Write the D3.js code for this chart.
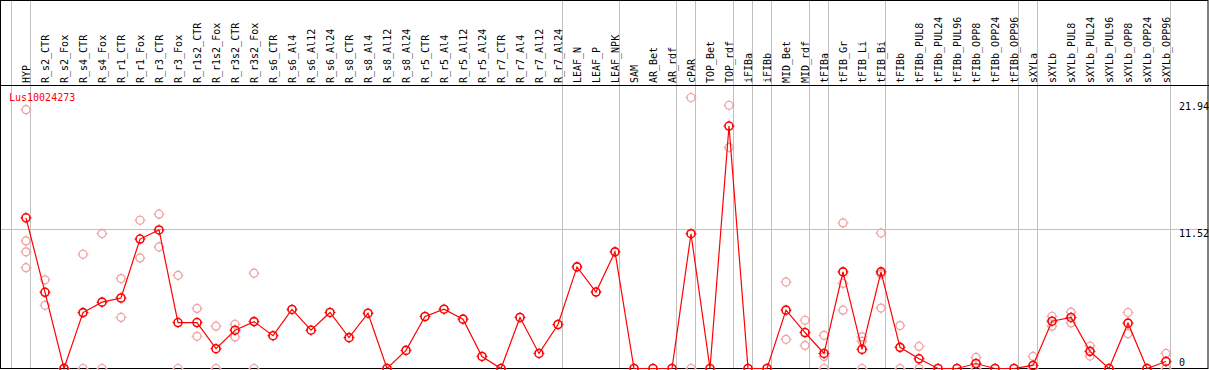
<!DOCTYPE html>
<html>
<head>
<meta charset="utf-8">
<script src="https://cdn.jsdelivr.net/npm/d3@7"></script>
<style>
  html, body { margin: 0; padding: 0; background: #fff; }
  svg { display: block; }
  text { font-family: "DejaVu Sans Mono", monospace; font-size: 10px; }
</style>
</head>
<body>
<div id="chart"></div>
<script>
const geneName = 'Lus10024273'

const samples = ['HYP', 'R_s2_CTR', 'R_s2_Fox', 'R_s4_CTR', 'R_s4_Fox', 'R_r1_CTR', 'R_r1_Fox', 'R_r3_CTR', 'R_r3_Fox',
  'R_r1s2_CTR', 'R_r1s2_Fox', 'R_r3s2_CTR', 'R_r3s2_Fox', 'R_s6_CTR', 'R_s6_Al4', 'R_s6_Al12', 'R_s6_Al24',
  'R_s8_CTR', 'R_s8_Al4', 'R_s8_Al12', 'R_s8_Al24', 'R_r5_CTR', 'R_r5_Al4', 'R_r5_Al12', 'R_r5_Al24',
  'R_r7_CTR', 'R_r7_Al4', 'R_r7_Al12', 'R_r7_Al24', 'LEAF_N', 'LEAF_P', 'LEAF_NPK', 'SAM', 'AR_Bet', 'AR_rdf',
  'cPAR', 'TOP_Bet', 'TOP_rdf', 'iFIBa', 'iFIBb', 'MID_Bet', 'MID_rdf', 'tFIBa', 'tFIB_Gr', 'tFIB_Li', 'tFIB_Bi',
  'tFIBb', 'tFIBb_PUL8', 'tFIBb_PUL24', 'tFIBb_PUL96', 'tFIBb_OPP8', 'tFIBb_OPP24', 'tFIBb_OPP96',
  'sXYLa', 'sXYLb', 'sXYLb_PUL8', 'sXYLb_PUL24', 'sXYLb_PUL96', 'sXYLb_OPP8', 'sXYLb_OPP24', 'sXYLb_OPP96']

// mean expression per sample
const means = [12.4, 6.27, 0, 4.6, 5.46, 5.8, 10.65, 11.4, 3.78,
  3.78, 1.63, 3.15, 3.86, 2.7, 4.86, 3.15, 4.61,
  2.54, 4.55, 0, 1.49, 4.28, 4.88, 4.06, 0.99,
  0, 4.2, 1.24, 3.62, 8.36, 6.29, 9.6, 0, 0, 0,
  11.09, 0, 19.95, 0, 0, 4.8, 2.96, 1.24, 7.95, 1.57, 7.95,
  1.74, 0.8, 0, 0, 0.41, 0, 0,
  0.25, 3.89, 4.2, 1.41, 0, 3.73, 0, 0.58]

// individual replicates (pale circles)
const replicates = [[21.3, 10.5, 9.6, 8.3], [7.3, 5.2], [0], [9.4, 0], [11.1, 0], [7.4, 4.2], [12.2, 9.1], [12.7, 10.0], [7.67, 0],
  [4.94, 2.65], [3.48, 0], [3.64, 2.6], [7.84, 0], [], [], [], [],
  [], [], [], [], [], [], [], [],
  [], [], [], [], [], [], [], [], [], [],
  [22.3, 0], [], [21.66, 18.19], [], [], [7.12, 2.4], [3.97, 1.9], [2.73, 0.99, 0], [11.98, 7.0, 4.8], [2.6, 2.24, 0], [11.15, 7.76, 4.97],
  [3.53, 0], [1.82, 0], [], [], [0.91, 0], [], [],
  [0.99, 0], [4.3, 3.48], [4.64, 3.75], [1.85, 1.02], [], [4.61, 2.87], [], [1.24, 0]]

// group boundaries drawn after these sample indices
const groupEnds = [-1, 0, 28, 31, 34, 35, 37, 38, 39, 41, 42, 45, 52, 53, 60]

const yTicks = [0, 11.52, 21.94]

const W = 1209, H = 370
const headerH = 85
const bottom = 368.5

const svg = d3.select('#chart')
  .append('svg')
    .attr('width', W)
    .attr('height', H)

const x = d3.scaleLinear()
  .domain([0, samples.length - 1])
  .range([26, 1166])

const y = d3.scaleLinear()
  .domain([0, 11.52])
  .range([bottom, 228.5])

const crisp = v => Math.round(v) + 0.5

// grid: vertical group separators
svg.append('g')
  .selectAll('line')
  .data(groupEnds)
  .join('line')
    .attr('x1', d => crisp(x(d) + 4))
    .attr('x2', d => crisp(x(d) + 4))
    .attr('y1', 0)
    .attr('y2', bottom)
    .attr('stroke', '#c0c0c0')
    .attr('stroke-width', 1)

// horizontal grid for inner ticks
const maxTick = d3.max(yTicks)
svg.append('g')
  .selectAll('line')
  .data(yTicks.filter(t => t > 0 && t < maxTick))
  .join('line')
    .attr('x1', 0)
    .attr('x2', W)
    .attr('y1', d => crisp(y(d)))
    .attr('y2', d => crisp(y(d)))
    .attr('stroke', '#c0c0c0')

// frame
svg.append('rect')
  .attr('x', 0.5).attr('y', 0.5)
  .attr('width', W - 1.5).attr('height', bottom - 0.5)
  .attr('fill', 'none')
  .attr('stroke', '#000')
svg.append('line')
  .attr('x1', 0).attr('x2', W)
  .attr('y1', headerH + 0.5).attr('y2', headerH + 0.5)
  .attr('stroke', '#000')

// sample labels (rotated)
svg.append('g')
  .selectAll('text')
  .data(samples)
  .join('text')
    .attr('transform', (d, i) => `translate(${x(i) + 4},${headerH - 2}) rotate(-90)`)
    .attr('fill', '#000')
    .text(d => d)

// y labels on the right
svg.append('g')
  .selectAll('text')
  .data(yTicks)
  .join('text')
    .attr('x', 1179)
    .attr('y', d => Math.min(y(d) + 8, 366))
    .attr('fill', '#000')
    .text(d => d)

// title
svg.append('text')
  .attr('x', 9)
  .attr('y', 101)
  .attr('fill', '#ff0000')
  .text(geneName)

// marker with little ticks like the original bitmap circles
const marker = (g, color, sw) => {
  g.append('circle')
    .attr('r', 4)
    .attr('fill', 'none')
    .attr('stroke', color)
    .attr('stroke-width', sw)
  g.append('path')
    .attr('d', 'M0,-5.5V-3.5M0,3.5V5.5M-5.5,0H-3.5M3.5,0H5.5')
    .attr('stroke', color)
    .attr('stroke-width', 1)
}

// replicates
const repData = []
replicates.forEach((reps, i) => reps.forEach(v => repData.push({ i, v })))

svg.append('g')
  .selectAll('g')
  .data(repData)
  .join('g')
    .attr('transform', d => `translate(${x(d.i)},${y(d.v)})`)
    .each(function() { marker(d3.select(this), '#f0a0a0', 1.2) })

// mean line
svg.append('path')
  .datum(means)
  .attr('fill', 'none')
  .attr('stroke', '#ff0000')
  .attr('stroke-width', 1.2)
  .attr('d', d3.line()
    .x((d, i) => x(i))
    .y(d => y(d)))

svg.append('g')
  .selectAll('g')
  .data(means)
  .join('g')
    .attr('transform', (d, i) => `translate(${x(i)},${y(d)})`)
    .each(function() { marker(d3.select(this), '#ff0000', 1.6) })
</script>
</body>
</html>
